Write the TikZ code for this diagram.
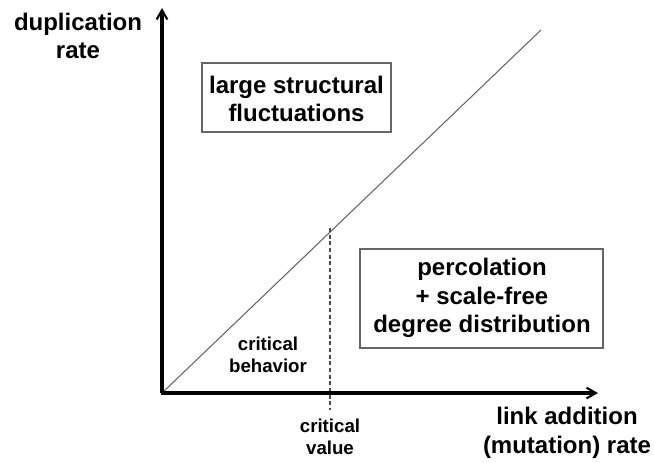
\documentclass[tikz,border=0pt]{standalone}
\usepackage{fontspec}
\setmainfont{Liberation Sans}
\usetikzlibrary{arrows.meta}
\begin{document}
\begin{tikzpicture}[x=0.75pt,y=-0.75pt,
  axis/.style={line width=2.4pt,-{Straight Barb[length=7pt,width=8pt,line width=1.6pt]}},
  lbl/.style={font=\bfseries\fontsize{18}{21.5}\selectfont,align=center,inner sep=0pt},
  small/.style={font=\bfseries\fontsize{14}{16.3}\selectfont,align=center,inner sep=0pt},
  regbox/.style={draw=black!60,line width=1.1pt,fill=white}]
\useasboundingbox (0,0) rectangle (654,462);
\coordinate (O) at (162,393);
\coordinate (Ytop) at (162,8);
\coordinate (Xend) at (598,393);
\coordinate (D) at (541,30);
\coordinate (Ct) at (330,228);
\coordinate (Cb) at (330,410);
\draw[black!60,line width=0.8pt] (O) -- (D);
\draw[dash pattern=on 3pt off 2pt,line width=0.8pt,black!70] (Ct) -- (Cb);
\draw[axis] (O) -- (Ytop);
\draw[axis] ([xshift=-1pt]O) -- (Xend);
\node[regbox,minimum width=189*0.75pt,minimum height=69*0.75pt] (b1) at (296.5,97.5) {};
\node[lbl] (t1) at (296.5,99) {large structural\\fluctuations};
\node[regbox,minimum width=243*0.75pt,minimum height=99*0.75pt] (b2) at (481.5,298.5) {};
\node[lbl] (t2) at (482,298) {percolation\\+ scale-free\\degree distribution};
\node[lbl] (ylab) at (78,36) {duplication\\rate};
\node[lbl] (xlab) at (567,433) {link addition\\(mutation) rate};
\node[small] (cb) at (268,355) {critical\\behavior};
\node[small] (cv) at (330,437) {critical\\value};
\end{tikzpicture}
\end{document}
